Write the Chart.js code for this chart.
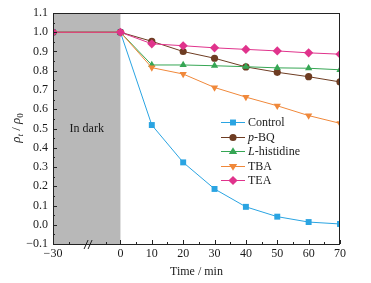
<!DOCTYPE html>
<html>
<head>
<meta charset="utf-8">
<script src="https://cdn.jsdelivr.net/npm/chart.js@4"></script>
<style>
  html, body { margin: 0; padding: 0; background: #fff; }
  #wrap { width: 371px; height: 283px; }
</style>
</head>
<body>
<div id="wrap"><canvas id="chart"></canvas></div>
<script>
// time points (min); -30 sits before the axis break
const times = [-30, 0, 10, 20, 30, 40, 50, 60, 70];
const control = [1.0, 1.0, 0.518, 0.324, 0.186, 0.093, 0.042, 0.014, 0.004];
const pBQ = [1.0, 1.0, 0.953, 0.900, 0.865, 0.820, 0.792, 0.769, 0.742];
const histidine = [1.0, 1.0, 0.830, 0.830, 0.826, 0.821, 0.815, 0.813, 0.805];
const tba = [1.0, 1.0, 0.816, 0.783, 0.713, 0.663, 0.618, 0.567, 0.527];
const tea = [1.0, 1.0, 0.940, 0.930, 0.919, 0.911, 0.903, 0.893, 0.886];
const xTickLabels = ['−30', '0', '10', '20', '30', '40', '50', '60', '70'];
const seriesNames = ['Control', 'p-BQ', 'L-histidine', 'TBA', 'TEA'];

const BREAK_POS = -21.5; // where -30 is drawn on the broken axis
const FONT = '"Liberation Serif", "DejaVu Serif", serif';
const axisX = t => (t < 0 ? BREAK_POS : t);

function pts(vals) {
    return times.map((t, i) => ({ x: axisX(t), y: vals[i] }));
}

const styles = [
    { color: '#2aa4e2', point: 'rect', radius: 4.2, rotation: 0, order: 4 },
    { color: '#6e3c22', point: 'circle', radius: 3.6, rotation: 0, order: 3 },
    { color: '#36a654', point: 'triangle', radius: 4.2, rotation: 0, order: 2 },
    { color: '#f0883a', point: 'triangle', radius: 4.2, rotation: 180, order: 1 },
    { color: '#e0338c', point: 'rectRot', radius: 4.6, rotation: 0, order: 0 }
];
const seriesData = [control, pBQ, histidine, tba, tea];

function marker(ctx, style, x, y, r, rot) {
    ctx.save();
    ctx.translate(x, y);
    ctx.rotate((rot || 0) * Math.PI / 180);
    ctx.beginPath();
    if (style === 'circle') {
        ctx.arc(0, 0, r, 0, Math.PI * 2);
    } else if (style === 'rect') {
        const s = r * Math.SQRT1_2;
        ctx.rect(-s, -s, 2 * s, 2 * s);
    } else if (style === 'rectRot') {
        ctx.moveTo(0, -r); ctx.lineTo(r, 0); ctx.lineTo(0, r); ctx.lineTo(-r, 0);
    } else if (style === 'triangle') {
        const h = r * 1.5;
        ctx.moveTo(0, -r); ctx.lineTo(h * 0.58 * 1.15, r * 0.6); ctx.lineTo(-h * 0.58 * 1.15, r * 0.6);
    }
    ctx.closePath();
    ctx.fill();
    ctx.restore();
}

const decor = {
    id: 'decor',
    beforeDatasetsDraw(chart) {
        const { ctx, chartArea: a, scales: { x } } = chart;
        const x0 = x.getPixelForValue(BREAK_POS);
        const x1 = x.getPixelForValue(0);
        ctx.save();
        ctx.fillStyle = '#b8b8b8';
        ctx.fillRect(x0, a.top, x1 - x0, a.bottom - a.top);
        ctx.fillStyle = '#1a1a1a';
        ctx.font = '12px ' + FONT;
        ctx.textAlign = 'center';
        ctx.textBaseline = 'middle';
        ctx.fillText('In dark', (x0 + x1) / 2, 129);
        ctx.restore();
    },
    afterDraw(chart) {
        const { ctx, chartArea: a, scales: { x, y } } = chart;
        ctx.save();
        ctx.strokeStyle = '#222';
        ctx.lineWidth = 1;
        ctx.strokeRect(Math.round(a.left) + 0.5, Math.round(a.top) + 0.5,
            Math.round(a.right - a.left) - 1, Math.round(a.bottom - a.top));

        // inward ticks
        ctx.beginPath();
        for (let v = -0.1; v <= 1.1001; v += 0.05) {
            const py = Math.round(y.getPixelForValue(v)) + 0.5;
            const major = Math.abs(Math.round(v * 10) - v * 10) < 1e-6;
            ctx.moveTo(a.left, py); ctx.lineTo(a.left + (major ? 4 : 2), py);
        }
        const xt = [[BREAK_POS, 1], [-16.5, 0], [-4.75, 0]];
        for (let v = 0; v <= 70; v += 5) xt.push([v, v % 10 === 0 ? 1 : 0]);
        xt.forEach(([v, major]) => {
            const px = Math.round(x.getPixelForValue(v)) + 0.5;
            ctx.moveTo(px, a.bottom); ctx.lineTo(px, a.bottom - (major ? 4 : 2));
        });
        ctx.stroke();

        // axis break mark
        const bx = x.getPixelForValue(-10);
        ctx.strokeStyle = '#222';
        ctx.beginPath();
        ctx.moveTo(bx - 5, a.bottom + 5); ctx.lineTo(bx - 1, a.bottom - 4);
        ctx.moveTo(bx - 1, a.bottom + 5); ctx.lineTo(bx + 3, a.bottom - 4);
        ctx.stroke();

        // axis titles
        ctx.fillStyle = '#1a1a1a';
        ctx.font = '12px ' + FONT;
        ctx.textAlign = 'center';
        ctx.textBaseline = 'middle';
        ctx.fillText('Time / min', (a.left + a.right) / 2, 272);

        ctx.save();
        ctx.translate(16, 128);
        ctx.rotate(-Math.PI / 2);
        ctx.textAlign = 'left';
        ctx.textBaseline = 'alphabetic';
        const parts = [
            ['italic 13px', 'ρ', 0], ['italic 9px', 't', 3], ['13px', ' / ', 0],
            ['italic 13px', 'ρ', 0], ['9px', '0', 3]
        ];
        let w = 0;
        parts.forEach(p => { ctx.font = p[0] + ' ' + FONT; w += ctx.measureText(p[1]).width; });
        let cx = -w / 2;
        parts.forEach(p => {
            ctx.font = p[0] + ' ' + FONT;
            ctx.fillText(p[1], cx, 4 + p[2]);
            cx += ctx.measureText(p[1]).width;
        });
        ctx.restore();

        // legend
        const rows = [122, 137, 151, 166, 180];
        seriesNames.forEach((name, i) => {
            const st = styles[i];
            const ly = rows[i];
            ctx.strokeStyle = st.color;
            ctx.fillStyle = st.color;
            ctx.beginPath();
            ctx.moveTo(221, ly + 0.5); ctx.lineTo(245, ly + 0.5);
            ctx.stroke();
            marker(ctx, st.point, 233, ly + 0.5, st.radius, st.rotation);
            ctx.fillStyle = '#1a1a1a';
            ctx.textAlign = 'left';
            ctx.textBaseline = 'middle';
            let tx = 248;
            const m = name.match(/^([pL])(-.*)$/);
            if (m) {
                ctx.font = 'italic 12px ' + FONT;
                ctx.fillText(m[1], tx, ly + 1);
                tx += ctx.measureText(m[1]).width;
                ctx.font = '12px ' + FONT;
                ctx.fillText(m[2], tx, ly + 1);
            } else {
                ctx.font = '12px ' + FONT;
                ctx.fillText(name, tx, ly + 1);
            }
        });
        ctx.restore();
    }
};

new Chart(document.getElementById('chart'), {
    type: 'line',
    data: {
        datasets: seriesNames.map((name, i) => ({
            label: name,
            data: pts(seriesData[i]),
            borderColor: styles[i].color,
            backgroundColor: styles[i].color,
            borderWidth: 1,
            pointStyle: styles[i].point,
            pointRadius: styles[i].radius,
            pointRotation: styles[i].rotation,
            pointBorderWidth: 0,
            order: styles[i].order,
            tension: 0
        }))
    },
    plugins: [decor],
    options: {
        responsive: true,
        maintainAspectRatio: false,
        animation: false,
        events: [],
        layout: { padding: { left: 0, right: 31, top: 13, bottom: 0 } },
        plugins: { legend: { display: false }, tooltip: { enabled: false } },
        scales: {
            x: {
                type: 'linear',
                min: BREAK_POS,
                max: 70,
                afterBuildTicks: s => {
                    s.ticks = times.map(t => ({ value: axisX(t) }));
                },
                afterFit: s => { s.height = 39; },
                ticks: {
                    autoSkip: false,
                    maxRotation: 0,
                    padding: 3,
                    color: '#1a1a1a',
                    font: { family: FONT, size: 12 },
                    callback: (v) => xTickLabels[times.map(axisX).indexOf(v)]
                },
                grid: { display: false, drawTicks: false },
                border: { display: false }
            },
            y: {
                min: -0.1,
                max: 1.1,
                afterFit: s => { s.width = 53; },
                ticks: {
                    stepSize: 0.1,
                    padding: 5,
                    color: '#1a1a1a',
                    font: { family: FONT, size: 12 },
                    callback: v => (v < -0.001 ? '−' + Math.abs(v).toFixed(1) : Math.abs(v).toFixed(1))
                },
                grid: { display: false, drawTicks: false },
                border: { display: false }
            }
        }
    }
});
</script>
</body>
</html>
